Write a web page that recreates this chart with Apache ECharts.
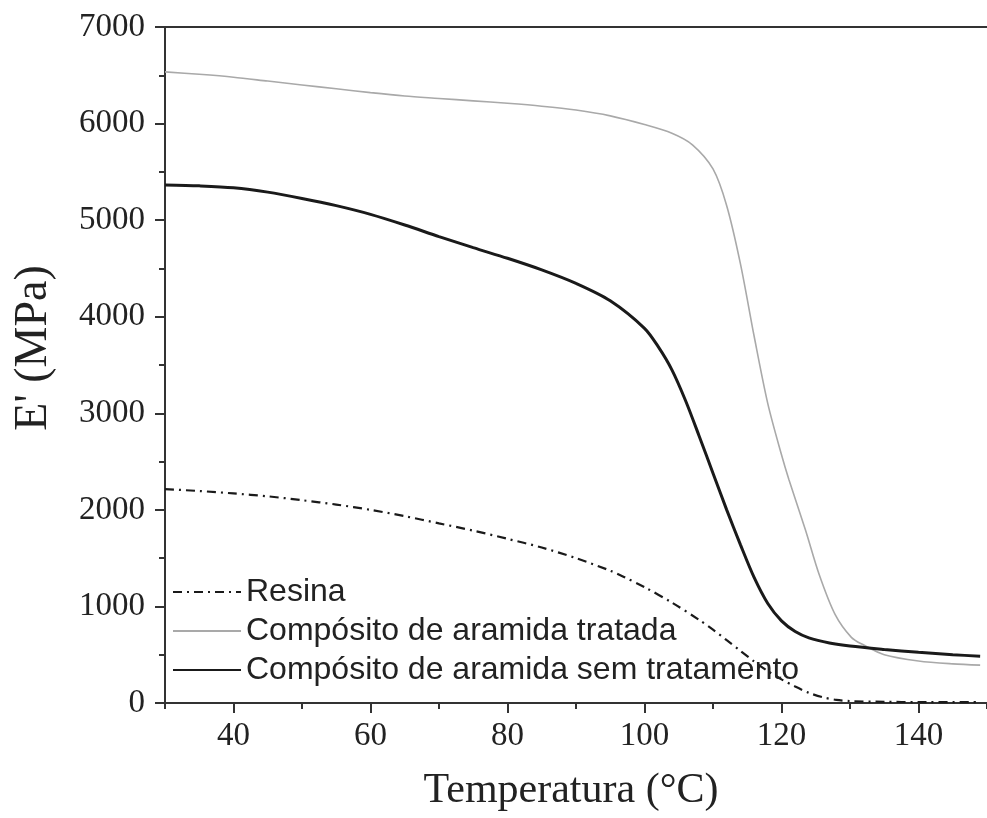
<!DOCTYPE html>
<html>
<head>
<meta charset="utf-8">
<script src="https://cdn.jsdelivr.net/npm/echarts@6/dist/echarts.min.js"></script>
<style>
  html, body { margin: 0; padding: 0; background: #fff; }
  #chart { width: 987px; height: 818px; }
</style>
</head>
<body>
<div id="chart"></div>
<script>
// Storage modulus E' versus temperature for the neat resin and the two aramid composites
const seriesNames = ['Resina', 'Compósito de aramida tratada', 'Compósito de aramida sem tratamento'];

const tempResina = [30, 35, 40, 45, 50, 55, 60, 65, 70, 75, 80, 85, 90, 95, 97, 100, 104, 108, 110, 112, 114, 116, 118, 120, 122, 124, 126, 128, 130, 135, 140, 149];
const modResina  = [2215, 2195, 2170, 2140, 2100, 2055, 2000, 1935, 1860, 1785, 1700, 1610, 1500, 1370, 1305, 1200, 1040, 860, 760, 650, 540, 430, 330, 245, 170, 105, 60, 32, 20, 12, 10, 10];

const tempTratada = [30, 35, 40, 45, 50, 55, 60, 65, 70, 75, 80, 85, 90, 95, 100, 104, 107, 110, 112, 114, 116, 118, 120, 121.1, 123.5, 125.5, 127.8, 130.2, 132, 135, 140, 145, 149];
const modTratada  = [6535, 6510, 6480, 6440, 6400, 6360, 6320, 6285, 6260, 6235, 6210, 6180, 6140, 6080, 5990, 5900, 5780, 5530, 5150, 4550, 3800, 3100, 2570, 2309, 1791, 1330, 920, 680, 600, 500, 435, 405, 392];

const tempSem = [30, 35, 40, 45, 50, 55, 60, 65, 70, 75, 80, 85, 90, 95, 100, 102, 104, 106, 108, 110, 112, 114, 116, 118, 120, 122, 124, 127, 130, 135, 140, 145, 149];
const modSem  = [5365, 5355, 5335, 5290, 5225, 5150, 5060, 4950, 4830, 4715, 4605, 4485, 4345, 4165, 3880, 3690, 3450, 3130, 2760, 2380, 2000, 1640, 1300, 1030, 850, 740, 675, 622, 590, 555, 525, 500, 485];

const xMajorTicks = [40, 60, 80, 100, 120, 140];
const xMinorTicks = [30, 50, 70, 90, 110, 130, 150];

const pairs = (xs, ys) => xs.map((x, i) => [x, ys[i]]);

const serif = 'Liberation Serif';
const sans = 'Liberation Sans';
const ink = '#222';

const chart = echarts.init(document.getElementById('chart'), null, { renderer: 'canvas' });

chart.setOption({
  animation: false,
  backgroundColor: '#fff',
  grid: { left: 165, top: 27, width: 832, height: 676, containLabel: false },
  legend: {
    orient: 'vertical',
    left: 167,
    top: 570,
    itemWidth: 68,
    itemHeight: 14,
    itemGap: 5,
    itemStyle: { opacity: 0 },
    textStyle: { fontFamily: sans, fontSize: 32, color: ink, lineHeight: 34 },
    data: seriesNames
  },
  xAxis: [
    {
      type: 'value', position: 'bottom', min: 30, max: 150,
      name: 'Temperatura (°C)', nameLocation: 'middle', nameGap: 67,
      nameTextStyle: { fontFamily: serif, fontSize: 42, color: ink, padding: [0, 10, 0, 0] },
      axisLine: { show: true, lineStyle: { color: '#333', width: 2 } },
      axisTick: { show: true, inside: false, length: 10, customValues: xMajorTicks, lineStyle: { color: '#333', width: 2 } },
      axisLabel: { show: true, customValues: xMajorTicks, margin: 17, fontFamily: serif, fontSize: 33, color: ink },
      splitLine: { show: false }
    },
    {
      type: 'value', position: 'bottom', min: 30, max: 150,
      axisLine: { show: false },
      axisTick: { show: true, inside: false, length: 6, customValues: xMinorTicks, lineStyle: { color: '#333', width: 2 } },
      axisLabel: { show: false },
      splitLine: { show: false }
    },
    {
      type: 'value', position: 'top', min: 30, max: 150,
      axisLine: { show: true, lineStyle: { color: '#333', width: 2 } },
      axisTick: { show: false },
      axisLabel: { show: false },
      splitLine: { show: false }
    }
  ],
  yAxis: {
    type: 'value', min: 0, max: 7000, interval: 1000,
    name: "E' (MPa)", nameLocation: 'middle', nameGap: 108, nameRotate: 90,
    nameTextStyle: { fontFamily: serif, fontSize: 46, color: ink, padding: [0, 0, 0, 34] },
    axisLine: { show: true, lineStyle: { color: '#333', width: 2 } },
    axisTick: { show: true, inside: false, length: 10, lineStyle: { color: '#333', width: 2 } },
    minorTick: { show: true, splitNumber: 2, length: 6, lineStyle: { color: '#333', width: 2 } },
    axisLabel: { margin: 20, fontFamily: serif, fontSize: 33, color: ink, formatter: v => String(v) },
    splitLine: { show: false },
    minorSplitLine: { show: false }
  },
  series: [
    {
      name: seriesNames[0], type: 'line', xAxisIndex: 0,
      data: pairs(tempResina, modResina),
      smooth: 0.3, showSymbol: false, symbol: 'none',
      lineStyle: { color: '#1a1a1a', width: 2.2, type: [9, 5, 2, 5] },
      itemStyle: { color: '#1a1a1a' },
      z: 3
    },
    {
      name: seriesNames[1], type: 'line', xAxisIndex: 0,
      data: pairs(tempTratada, modTratada),
      smooth: 0.3, showSymbol: false, symbol: 'none',
      lineStyle: { color: '#a9a9a9', width: 1.6 },
      itemStyle: { color: '#a9a9a9' },
      z: 2
    },
    {
      name: seriesNames[2], type: 'line', xAxisIndex: 0,
      data: pairs(tempSem, modSem),
      smooth: 0.3, showSymbol: false, symbol: 'none',
      lineStyle: { color: '#1a1a1a', width: 3 },
      itemStyle: { color: '#1a1a1a' },
      z: 4
    }
  ]
});
</script>
</body>
</html>
